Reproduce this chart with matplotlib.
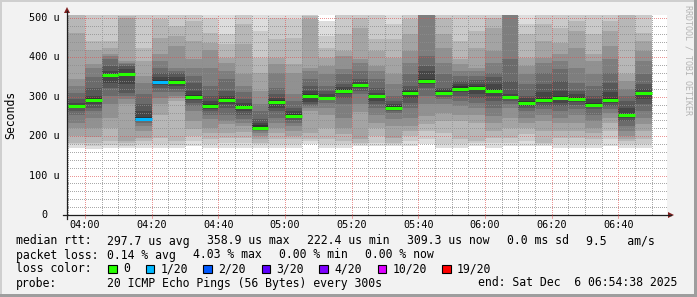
import matplotlib
matplotlib.use("Agg")
import numpy as np
import matplotlib.pyplot as plt
from matplotlib.lines import Line2D
from matplotlib.patches import Polygon, Rectangle

MONO = "DejaVu Sans Mono"

# ---------------- data ----------------
bin_times = ["03:55", "04:00", "04:05", "04:10", "04:15", "04:20", "04:25", "04:30", "04:35",
             "04:40", "04:45", "04:50", "04:55", "05:00", "05:05", "05:10", "05:15", "05:20",
             "05:25", "05:30", "05:35", "05:40", "05:45", "05:50", "05:55", "06:00", "06:05",
             "06:10", "06:15", "06:20", "06:25", "06:30", "06:35", "06:40", "06:45"]

median_us = [277, 292, 355, 359, 244, 338, 337, 300, 277, 293, 273, 222, 287, 252, 302, 297, 315, 331,
             302, 271, 310, 341, 310, 321, 323, 315, 300, 285, 293, 296, 294, 280, 293, 253, 309]

lost_pings = [0, 0, 0, 0, 1, 1, 0, 0, 0, 0, 0, 0, 0, 0, 0, 0, 0, 0,
              0, 0, 0, 0, 0, 0, 0, 0, 0, 0, 0, 0, 0, 0, 0, 0, 0]

# 20 sorted ping round-trip times per bin (microseconds)
ping_rtt_us = [
    [171, 179, 183, 200, 222, 234, 255, 264, 271, 274, 277, 285, 294, 310, 327, 344, 463, 509, 540, 560],
    [168, 175, 184, 197, 222, 247, 264, 272, 281, 288, 296, 302, 323, 349, 374, 382, 420, 442, 509, 540],
    [171, 178, 188, 222, 247, 281, 302, 323, 335, 349, 359, 365, 378, 395, 404, 408, 425, 442, 509, 540],
    [169, 175, 183, 188, 281, 294, 302, 310, 332, 353, 361, 370, 378, 384, 387, 391, 501, 505, 509, 540],
    [171, 179, 188, 196, 213, 226, 234, 239, 242, 244, 249, 264, 281, 306, 336, 353, 391, 425, 509, 540],
    [171, 179, 196, 255, 281, 298, 311, 323, 330, 335, 342, 349, 361, 374, 391, 408, 450, 497, 509, 540],
    [171, 178, 188, 289, 298, 302, 311, 319, 327, 333, 342, 349, 361, 366, 374, 429, 454, 480, 509, 540],
    [175, 188, 201, 218, 239, 264, 277, 285, 291, 296, 305, 315, 336, 353, 374, 395, 442, 492, 509, 540],
    [171, 179, 192, 209, 222, 243, 255, 264, 270, 274, 281, 289, 302, 327, 374, 420, 437, 463, 501, 530],
    [171, 184, 196, 209, 230, 239, 255, 272, 281, 288, 297, 302, 315, 344, 365, 387, 399, 433, 459, 540],
    [171, 184, 196, 211, 226, 234, 243, 255, 264, 270, 279, 285, 294, 311, 327, 357, 433, 484, 509, 540],
    [171, 179, 183, 192, 200, 209, 213, 216, 219, 221, 228, 234, 243, 264, 281, 315, 361, 399, 467, 530],
    [171, 179, 192, 209, 222, 234, 247, 264, 272, 281, 291, 298, 306, 323, 361, 382, 399, 446, 501, 540],
    [171, 179, 192, 201, 213, 226, 234, 240, 245, 249, 257, 264, 272, 289, 306, 361, 382, 450, 497, 540],
    [179, 188, 192, 209, 264, 272, 277, 281, 288, 296, 306, 315, 327, 344, 365, 374, 497, 505, 509, 540],
    [171, 179, 192, 222, 255, 272, 285, 291, 296, 298, 300, 306, 315, 327, 357, 378, 399, 425, 454, 492],
    [171, 179, 188, 205, 222, 247, 281, 298, 306, 313, 320, 325, 332, 357, 370, 404, 416, 459, 509, 540],
    [175, 179, 184, 192, 262, 281, 306, 315, 323, 327, 333, 338, 344, 366, 387, 395, 475, 501, 509, 540],
    [175, 184, 201, 222, 234, 255, 272, 281, 289, 298, 304, 310, 323, 344, 365, 378, 416, 446, 509, 540],
    [175, 179, 184, 196, 226, 243, 260, 264, 268, 270, 276, 281, 289, 302, 332, 357, 399, 446, 484, 520],
    [175, 188, 201, 213, 226, 247, 272, 285, 298, 306, 315, 319, 327, 357, 387, 416, 459, 497, 509, 540],
    [179, 192, 213, 230, 251, 281, 302, 323, 333, 338, 344, 366, 378, 404, 515, 525, 540, 560, 580, 600],
    [171, 179, 209, 239, 260, 281, 294, 300, 305, 308, 315, 319, 323, 357, 387, 425, 459, 501, 509, 540],
    [171, 179, 192, 239, 255, 277, 289, 302, 311, 319, 327, 332, 340, 353, 366, 382, 395, 442, 509, 540],
    [175, 184, 188, 234, 255, 272, 285, 298, 308, 316, 327, 332, 343, 353, 366, 374, 425, 467, 509, 540],
    [171, 184, 196, 213, 234, 251, 272, 289, 302, 310, 319, 332, 349, 361, 387, 416, 475, 501, 509, 540],
    [175, 184, 196, 222, 247, 272, 281, 289, 294, 298, 303, 306, 340, 395, 515, 525, 540, 560, 580, 600],
    [175, 188, 205, 222, 234, 247, 264, 272, 277, 281, 289, 298, 302, 332, 357, 378, 399, 459, 484, 540],
    [175, 179, 184, 213, 239, 255, 268, 277, 285, 289, 296, 311, 332, 361, 387, 399, 442, 484, 509, 540],
    [171, 179, 196, 213, 234, 247, 264, 277, 285, 293, 301, 315, 340, 370, 391, 408, 437, 475, 509, 540],
    [171, 179, 196, 213, 234, 255, 268, 279, 286, 291, 300, 308, 315, 336, 374, 425, 467, 492, 509, 540],
    [171, 179, 192, 209, 222, 239, 255, 268, 274, 277, 283, 294, 302, 327, 357, 391, 408, 459, 509, 540],
    [175, 192, 213, 234, 247, 260, 268, 277, 285, 289, 298, 311, 336, 361, 395, 429, 467, 492, 509, 540],
    [171, 179, 188, 192, 201, 213, 226, 239, 245, 250, 257, 272, 289, 302, 319, 340, 357, 515, 530, 550],
    [171, 179, 192, 213, 230, 247, 264, 281, 294, 304, 310, 319, 332, 357, 391, 416, 442, 463, 509, 540],
]

x_tick_labels = ["04:00", "04:20", "04:40", "05:00", "05:20", "05:40", "06:00", "06:20", "06:40"]
y_tick_values = [0, 100, 200, 300, 400, 500]
y_tick_labels = ["0", "100 u", "200 u", "300 u", "400 u", "500 u"]

loss_levels = [0, 1, 2, 3, 4, 10, 19]
loss_names = ["0", "1/20", "2/20", "3/20", "4/20", "10/20", "19/20"]
loss_colors = ["#26ff00", "#00b8ff", "#0059ff", "#5e00ff", "#7e00ff", "#dd00ff", "#ff0000"]

view_start = "03:54:38"
view_hours = 3

# ---------------- helpers ----------------
W, H = 697, 297


def tmin(s):
    parts = [float(p) for p in s.split(":")]
    v = parts[0] * 60 + parts[1]
    if len(parts) > 2:
        v += parts[2] / 60
    return v


def fx(x):
    return x / W


def fy(y):
    return 1 - y / H


def loss_color(n):
    c = loss_colors[0]
    for lv, col in zip(loss_levels, loss_colors):
        if n >= lv:
            c = col
    return c


BACK = "#f2f2f2"
SHADEA = "#cfcfcf"
SHADEB = "#9e9e9e"
GRID = (0.56, 0.56, 0.56, 0.75)
MGRID = (0.87, 0.31, 0.31, 0.60)
AXIS = (0.12, 0.12, 0.12)
ARROW = (0.50, 0.12, 0.12)

fig = plt.figure(figsize=(W / 100, H / 100), dpi=100, facecolor=BACK)

# 3D frame
fig.add_artist(Rectangle((0, fy(2)), 1, 2 / H, transform=fig.transFigure, color=SHADEA, lw=0))
fig.add_artist(Rectangle((0, 0), 2 / W, 1, transform=fig.transFigure, color=SHADEA, lw=0))
fig.add_artist(Rectangle((0, 0), 1, 3 / H, transform=fig.transFigure, color=SHADEB, lw=0))
fig.add_artist(Rectangle((fx(694), 0), 3 / W, 1, transform=fig.transFigure, color=SHADEB, lw=0))

x_org, y_org, xsize, ysize = 67, 215, 600, 200
ax = fig.add_axes([fx(x_org), fy(y_org), xsize / W, ysize / H])
ax.set_facecolor("white")
for sp in ax.spines.values():
    sp.set_visible(False)
ax.set_xticks([])
ax.set_yticks([])

t0 = tmin(view_start)
t1 = t0 + view_hours * 60
px_per_unit = 197 / 500.0
ytop = ysize / px_per_unit

starts = [tmin(s) for s in bin_times]
step = starts[1] - starts[0]

# smoke
n = len(ping_rtt_us[0])
half = n // 2
for ii in range(1, half + 1):
    g = int(190 / half * (half - ii)) + 50
    lo = [sorted(c)[ii - 1] for c in ping_rtt_us]
    hi = [sorted(c)[n - ii] for c in ping_rtt_us]
    ax.bar(starts, [h - l for h, l in zip(hi, lo)], bottom=lo, width=step, align="edge",
           color=(g / 255, g / 255, g / 255), linewidth=0, antialiased=False, zorder=1)

# dotted grid (1px on / 1px off) as a pixel-exact overlay above the smoke
ov = np.zeros((ysize, xsize, 4))
for v in range(20, 501, 20):
    r = round(y_org - v * px_per_unit) - (y_org - ysize)
    ov[r, 1::2] = MGRID if v % 100 == 0 else GRID
m = int(t0 // 5 * 5 + 5)
while m < t1:
    c = round((m - t0) / (t1 - t0) * xsize)
    if 0 <= c < xsize:
        ov[1::2, c] = MGRID if m % 20 == 0 else GRID
    m += 5
ax.imshow(ov, extent=(t0, t1, 0, ytop), origin="upper", aspect="auto", interpolation="none", zorder=3)

# median lines
ax.hlines(median_us, starts, [s + step for s in starts],
          colors=[loss_color(l) for l in lost_pings], lw=2.2, zorder=4)
ax.set_xlim(t0, t1)
ax.set_ylim(0, ytop)

# axes lines and arrows
fig.add_artist(Line2D([fx(x_org - 4), fx(x_org + xsize + 4)], [fy(y_org), fy(y_org)], color=AXIS, lw=0.9))
fig.add_artist(Line2D([fx(x_org), fx(x_org)], [fy(y_org + 4), fy(y_org - ysize - 4)], color=AXIS, lw=0.9))
fig.add_artist(Polygon([[fx(x_org + xsize + 1), fy(y_org - 3)], [fx(x_org + xsize + 1), fy(y_org + 3)],
                        [fx(x_org + xsize + 7), fy(y_org)]], closed=True, transform=fig.transFigure,
                       color=ARROW, lw=0))
fig.add_artist(Polygon([[fx(x_org - 3), fy(y_org - ysize - 2)], [fx(x_org + 3), fy(y_org - ysize - 2)],
                        [fx(x_org), fy(y_org - ysize - 8)]], closed=True, transform=fig.transFigure,
                       color=ARROW, lw=0))

# x tick labels and small major ticks
for lab in x_tick_labels:
    xv = tmin(lab)
    xp = x_org + (xv - t0) / (t1 - t0) * xsize
    fig.add_artist(Line2D([fx(xp), fx(xp)], [fy(y_org), fy(y_org + 3)], color=MGRID, lw=0.6))
    fig.text(fx(xp), fy(224.5), lab, ha="center", va="center", family=MONO, fontsize=7.3)

# y tick labels
for v, lab in zip(y_tick_values, y_tick_labels):
    yp = y_org - v * px_per_unit
    xr = 59.5 if v else 47.5
    fig.text(fx(xr), fy(yp), lab, ha="right", va="center", family=MONO, fontsize=7.3)

fig.text(fx(10.5), fy(115), "Seconds", rotation=90, ha="center", va="center", family=MONO, fontsize=8.3)
fig.text(fx(688), fy(5), "RRDTOOL / TOBI OETIKER", rotation=270, ha="center", va="top",
         family=MONO, fontsize=6, color="#b4b4b4")

# legend
def T(x, y, s):
    fig.text(fx(x), fy(y), s, ha="left", va="center", family=MONO, fontsize=8.3)


line1 = [("median rtt:", 16), ("297.7 us avg", 107.3), ("358.9 us max", 207.3), ("222.4 us min", 306.7),
         ("309.3 us now", 406.7), ("0.0 ms sd", 506.7), ("9.5   am/s", 586)]
line2 = [("packet loss:", 16), ("0.14 % avg", 107.3), ("4.03 % max", 192.7), ("0.00 % min", 279.3),
         ("0.00 % now", 365)]
line4 = [("probe:", 16), ("20 ICMP Echo Pings (56 Bytes) every 300s", 107.3),
         ("end: Sat Dec  6 06:54:38 2025", 478.3)]
for s, x in line1:
    T(x, 241, s)
for s, x in line2:
    T(x, 255, s)
for s, x in line4:
    T(x, 283, s)
T(16, 269, "loss color:")
box_x = [108.3, 145.7, 203, 261.7, 319.3, 377.7, 442.3]
for bx, nm, col in zip(box_x, loss_names, loss_colors):
    fig.add_artist(Rectangle((fx(bx), fy(273)), 8.5 / W, 8.5 / H, transform=fig.transFigure,
                             facecolor=col, edgecolor="black", lw=0.8))
    T(bx + 14.7, 269, nm)

fig.savefig("out.png", dpi=100, facecolor=BACK)
